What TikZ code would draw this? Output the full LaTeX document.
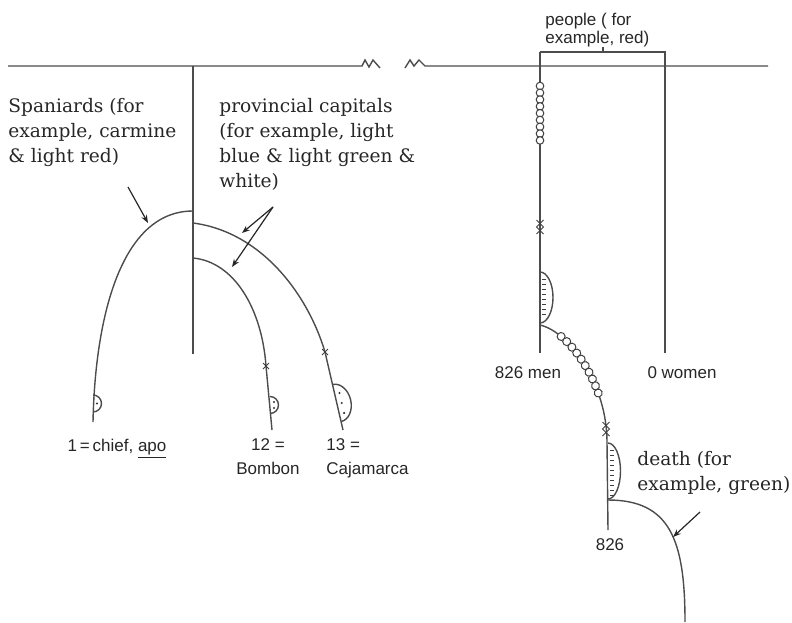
\documentclass[tikz,border=0pt]{standalone}
\usepackage{fontspec}
\setmainfont{DejaVu Serif}
\setsansfont{Liberation Sans}
\usetikzlibrary{arrows.meta,decorations.markings}
\tikzset{
	line/.style={draw=black!70, line width=0.7pt},
	serif text/.style={font=\fontsize{9.3}{12.5}\selectfont, text=black!85, align=left, inner sep=0pt},
	sans text/.style={font=\sffamily\fontsize{8.5}{12}\selectfont, text=black!85, inner sep=0pt},
	pointer/.style={line width=0.6pt, draw=black!85, -{Stealth[length=4pt,width=3pt]}},
	bead/.style={fill=white, draw=black!75, line width=0.5pt},
	hatch/.style={draw=black!75, line width=0.5pt},
}
\begin{document}
\begin{tikzpicture}[x=0.5pt, y=-0.5pt]
			\useasboundingbox (0,0) rectangle (792,622);
			
			\draw[line] (8,66) -- (362,66) -- (365,60) -- (369,67) -- (373,60) -- (380,68);
			\draw[line] (405,68) -- (410,60) -- (414,66) -- (419,60) -- (425,66) -- (768,66);
			
			\draw[line] (193,66) -- (193,354);
			\draw[line] (193,211) .. controls (120,211) and (95,320) .. (93,422);
			\draw[line] (93,395) arc[start angle=-90, end angle=90, radius=8.5];
			\fill[black!80] (97,403.5) circle (0.6pt);
			
			\draw[line] (193,223) .. controls (262,232) and (308,295) .. (325,352) -- (343,430);
			\draw[line, rotate around={13:(337,403)}] (337,384) arc[start angle=-90, end angle=90, x radius=14, y radius=19];
			\foreach \py in {393,403,413}
				\fill[black!80] ({325+18*(\py-352)/78+5}, \py) circle (0.6pt);
			
			\draw[line] (193,258) .. controls (235,262) and (262,310) .. (266,366) -- (272,430);
			\draw[line] (270,396.5) arc[start angle=-90, end angle=90, radius=8.5];
			\foreach \py in {402,408}
				\fill[black!80] (274,\py) circle (0.6pt);
			
			\foreach \px/\py in {266/366, 325/352}
				\draw[hatch] (\px-3,\py-3) -- (\px+3,\py+3) (\px-3,\py+3) -- (\px+3,\py-3);
			
			\node[serif text, anchor=base west] (spaniards) at (8,162) {Spaniards (for\\example, carmine\\\& light red)};
			\node[serif text, anchor=base west] (capitals) at (219,187) {provincial capitals\\(for example, light\\blue \& light green \&\\white)};
			\coordinate (sp tail) at (128,187);
			\coordinate (sp head) at (148,223);
			\draw[pointer] (sp tail) -- (sp head);
			\coordinate (cap tail) at (273,207);
			\coordinate (cap outer) at (242,233);
			\coordinate (cap inner) at (232,267);
			\draw[pointer] (cap tail) -- (cap outer);
			\draw[pointer] (cap tail) -- (cap inner);
			
			\node[sans text] (chief) at (117,449) {1\,=\,chief, \underline{apo}};
			\node[sans text, align=center, anchor=base] (bombon) at (268,474) {12 =\\Bombon};
			\node[sans text, align=left, anchor=base west] (cajamarca) at (326,474) {13 =\\Cajamarca};
			
			\draw[line] (540,52) -- (665,52) -- (665,353);
			\draw[line] (540,52) -- (540,353);
			\draw[line] (603,52) -- (603,47);
			\node[sans text, align=left, anchor=base west, font=\sffamily\fontsize{8.5}{8.8}\selectfont] (people) at (545,43) {people ( for\\example, red)};
			
			\foreach \i in {0,...,8}
				\draw[bead] (540, {86+6.8*\i}) circle (1.9pt);
			\draw[line] (540,272) arc[start angle=-90, end angle=90, x radius=13, y radius=25.5];
			\foreach \py in {279,284,...,316}
				\draw[hatch] (542,\py) -- (546,\py);
			
			\draw[line, postaction={decorate}, decoration={markings, mark=between positions 0.17 and 0.66 step 3.8pt with {\draw[bead] (0,0) circle (2pt);}}] (540,325) .. controls (570,332) and (607,385) .. (607,442);
			\draw[line] (607,442) -- (608,530);
			\foreach \px/\py in {540/227, 606/429}
				\draw[hatch] (\px-3.5,\py-7) -- (\px+3.5,\py) -- (\px-3.5,\py+7) (\px+3.5,\py-7) -- (\px-3.5,\py) -- (\px+3.5,\py+7);
			\draw[line] (608,443) arc[start angle=-90, end angle=90, x radius=12.5, y radius=28];
			\foreach \py in {450,455,...,495}
				\draw[hatch] (610,\py) -- (614,\py);
			
			\draw[line] (608,500) .. controls (670,500) and (685,540) .. (685,622);
			\node[serif text, anchor=base west] (death) at (637,490) {death (for\\example, green)};
			\coordinate (death tail) at (700,512);
			\coordinate (death head) at (673,537);
			\draw[pointer] (death tail) -- (death head);
			
			\node[sans text] (men) at (528,373) {826 men};
			\node[sans text] (women) at (682,373) {0 women};
			\node[sans text] (total) at (610,545) {826};
\end{tikzpicture}
\end{document}
